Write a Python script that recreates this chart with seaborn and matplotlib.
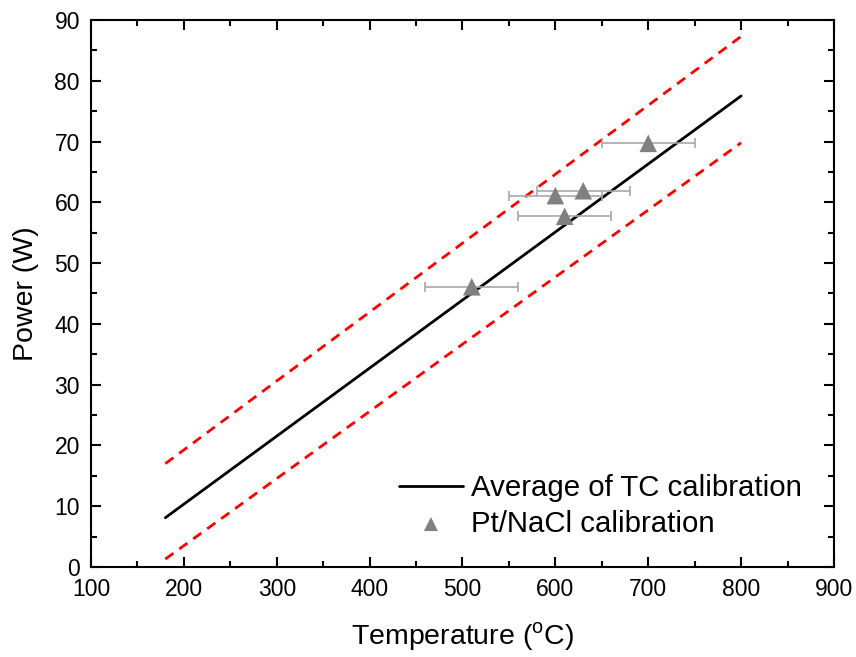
import matplotlib
matplotlib.use('Agg')
import matplotlib.pyplot as plt
import seaborn as sns
import numpy as np
from matplotlib.ticker import MultipleLocator

# calibration line end points
temp_line = [180, 800]
power_avg = [8.1, 77.5]
power_upper = [17.0, 87.3]
power_lower = [1.3, 69.8]

# Pt/NaCl calibration points
pt_temp = [510, 600, 630, 610, 700]
pt_power = [46.1, 61.1, 61.9, 57.7, 69.7]
pt_xerr = [50, 50, 50, 50, 50]

sns.set_theme(style='ticks')
plt.rcParams['font.family'] = ['Liberation Sans', 'DejaVu Sans']
plt.rcParams['mathtext.fontset'] = 'custom'
plt.rcParams['mathtext.rm'] = 'Liberation Sans'
plt.rcParams['text.color'] = 'black'
plt.rcParams['axes.labelcolor'] = 'black'

fig = plt.figure(figsize=(8.56, 6.57), dpi=100)
ax = fig.add_axes([0.1063, 0.137, 0.868, 0.8326])

sns.lineplot(x=temp_line, y=power_avg, color='black', lw=2, ax=ax,
             label='Average of TC calibration')
sns.lineplot(x=temp_line, y=power_upper, color='red', lw=2, ax=ax)
sns.lineplot(x=temp_line, y=power_lower, color='red', lw=2, ax=ax)
for ln in ax.lines[1:3]:
    ln.set_dashes([3.6, 2.6])

ax.errorbar(pt_temp, pt_power, xerr=pt_xerr, fmt='none', ecolor='#a8a8a8',
            elinewidth=1.2, capsize=3.5, capthick=1.2, zorder=3)
sns.scatterplot(x=pt_temp, y=pt_power, marker='^', s=160, color='#808080',
                edgecolor='none', ax=ax, zorder=4, label='Pt/NaCl calibration')

ax.set_xlim(100, 900)
ax.set_ylim(0, 90)
ax.xaxis.set_major_locator(MultipleLocator(100))
ax.xaxis.set_minor_locator(MultipleLocator(50))
ax.yaxis.set_major_locator(MultipleLocator(10))
ax.yaxis.set_minor_locator(MultipleLocator(5))
ax.tick_params(which='both', direction='in', top=True, right=True, width=1.5,
               labelsize=16.5, colors='black', pad=8)
ax.tick_params(which='major', length=7)
ax.tick_params(which='minor', length=4)
for sp in ax.spines.values():
    sp.set_linewidth(1.5)
    sp.set_color('black')
    sp.set_visible(True)

ax.set_xlabel(r'Temperature ($^{\rm o}$C)', fontsize=20.5, labelpad=14)
ax.set_ylabel('Power (W)', fontsize=20.5, labelpad=11)

ax.legend(loc='lower right', frameon=False, fontsize=21.2, handlelength=2.2,
          handletextpad=0.25, labelspacing=0.26, markerscale=0.8,
          bbox_to_anchor=(0.992, 0.005))

fig.savefig('out.png', dpi=100)
